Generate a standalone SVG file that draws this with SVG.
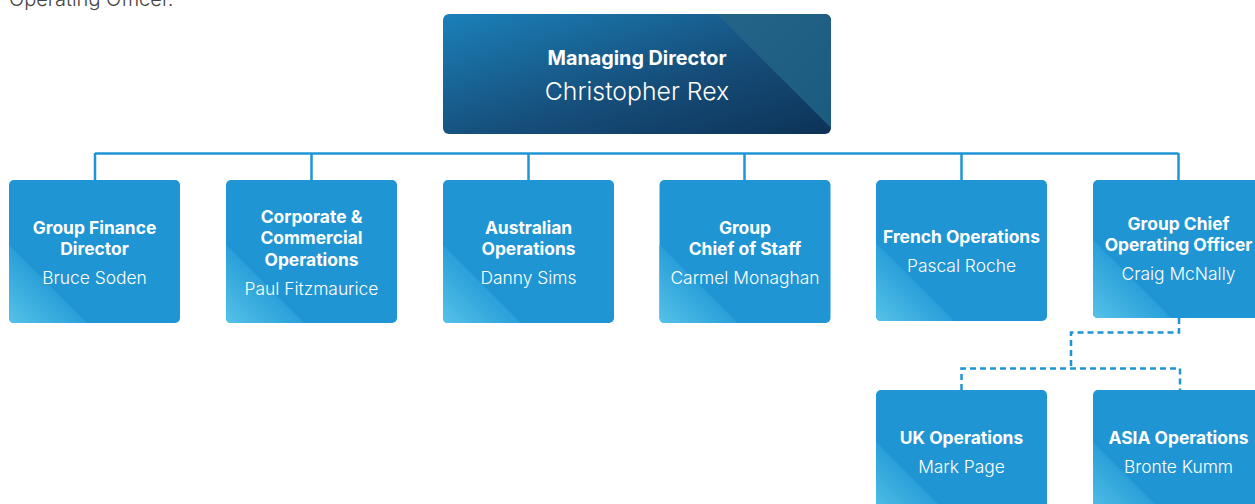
<svg xmlns="http://www.w3.org/2000/svg" width="1255" height="504" viewBox="0 0 1255 504">
<style>
.box{fill:#1f95d3}
.tri{fill:url(#triG)}
.t{font-family:Inter,"Liberation Sans",sans-serif;fill:#fff;text-anchor:middle}
.b{font-weight:700;font-size:17.4px}
.n{font-weight:300;font-size:17.4px}
.conn{fill:none;stroke:#1f95d3;stroke-width:2.5}
.dash{fill:none;stroke:#1f95d3;stroke-width:2.5;stroke-dasharray:6 4}
</style>
<defs>
<linearGradient id="triG" x1="0" y1="1" x2="0.5" y2="0.5">
<stop offset="0" stop-color="#55c2e8"/>
<stop offset="1" stop-color="#2a9fd9"/>
</linearGradient>
<linearGradient id="mdG" x1="0" y1="0" x2="1" y2="1">
<stop offset="0" stop-color="#1b80b9"/>
<stop offset="0.55" stop-color="#164f7b"/>
<stop offset="1" stop-color="#0d3257"/>
</linearGradient>
<linearGradient id="mdR" x1="0" y1="0" x2="1" y2="1">
<stop offset="0" stop-color="#236488"/>
<stop offset="1" stop-color="#1a5b7f"/>
</linearGradient>
<clipPath id="mdClip"><rect x="443" y="14" width="388" height="120" rx="6"/></clipPath>
</defs>
<text x="9" y="6" font-family="Inter,'Liberation Sans',sans-serif" font-weight="300" font-size="20" fill="#444">Operating Officer.</text>
<g id="connectors">
<path class="conn" d="M95,153.5H1178.5M95,153V180M311.5,153V180M528.5,153V180M744.5,153V180M961.5,153V180M1178.5,153V180"/>
<path class="dash" d="M1179,318V332.5H1071V368.5M961.5,390V368.5H1180V390"/>
</g>
<g id="md">
<g clip-path="url(#mdClip)">
<rect x="443" y="14" width="388" height="120" fill="url(#mdG)"/>
<polygon points="717,14 831,14 831,128" fill="url(#mdR)"/>
</g>
<text class="t" x="637" y="65" font-weight="700" font-size="19.8">Managing Director</text>
<text class="t" x="637" y="100" font-weight="300" font-size="24.8">Christopher Rex</text>
</g>
<g id="finance">
<rect class="box" x="9" y="180" width="171" height="143" rx="5"/>
<path class="tri" d="M9,245L87,323H14Q9,323 9,318Z"/>
<text class="t b" x="94.5" y="234">Group Finance</text>
<text class="t b" x="94.5" y="255">Director</text>
<text class="t n" x="94.5" y="284">Bruce Soden</text>
</g>
<g id="corporate">
<rect class="box" x="226" y="180" width="171" height="143" rx="5"/>
<path class="tri" d="M226,245L304,323H231Q226,323 226,318Z"/>
<text class="t b" x="311.5" y="223">Corporate &amp;</text>
<text class="t b" x="311.5" y="244">Commercial</text>
<text class="t b" x="311.5" y="265.5">Operations</text>
<text class="t n" x="311.5" y="295">Paul Fitzmaurice</text>
</g>
<g id="australian">
<rect class="box" x="443" y="180" width="171" height="143" rx="5"/>
<path class="tri" d="M443,245L521,323H448Q443,323 443,318Z"/>
<text class="t b" x="528.5" y="234">Australian</text>
<text class="t b" x="528.5" y="255">Operations</text>
<text class="t n" x="528.5" y="284">Danny Sims</text>
</g>
<g id="staff">
<rect class="box" x="659.5" y="180" width="171" height="143" rx="5"/>
<path class="tri" d="M659.5,245L737.5,323H664.5Q659.5,323 659.5,318Z"/>
<text class="t b" x="745" y="234">Group</text>
<text class="t b" x="745" y="255">Chief of Staff</text>
<text class="t n" x="745" y="284">Carmel Monaghan</text>
</g>
<g id="french">
<rect class="box" x="876" y="180" width="171" height="141" rx="5"/>
<path class="tri" d="M876,243L954,321H881Q876,321 876,316Z"/>
<text class="t b" x="961.5" y="242.5">French Operations</text>
<text class="t n" x="961.5" y="271.5">Pascal Roche</text>
</g>
<g id="coo">
<rect class="box" x="1093" y="180" width="171" height="138" rx="5"/>
<path class="tri" d="M1093,240L1171,318H1098Q1093,318 1093,313Z"/>
<text class="t b" x="1178.5" y="230">Group Chief</text>
<text class="t b" x="1178.5" y="251">Operating Officer</text>
<text class="t n" x="1178.5" y="280">Craig McNally</text>
</g>
<g id="uk">
<rect class="box" x="876" y="390" width="171" height="130" rx="5"/>
<path class="tri" d="M876,442L954,520H881Q876,520 876,515Z"/>
<text class="t b" x="961.5" y="444">UK Operations</text>
<text class="t n" x="961.5" y="472.5">Mark Page</text>
</g>
<g id="asia">
<rect class="box" x="1093" y="390" width="171" height="130" rx="5"/>
<path class="tri" d="M1093,442L1171,520H1098Q1093,520 1093,515Z"/>
<text class="t b" x="1178.5" y="444">ASIA Operations</text>
<text class="t n" x="1178.5" y="472.5">Bronte Kumm</text>
</g>
</svg>
